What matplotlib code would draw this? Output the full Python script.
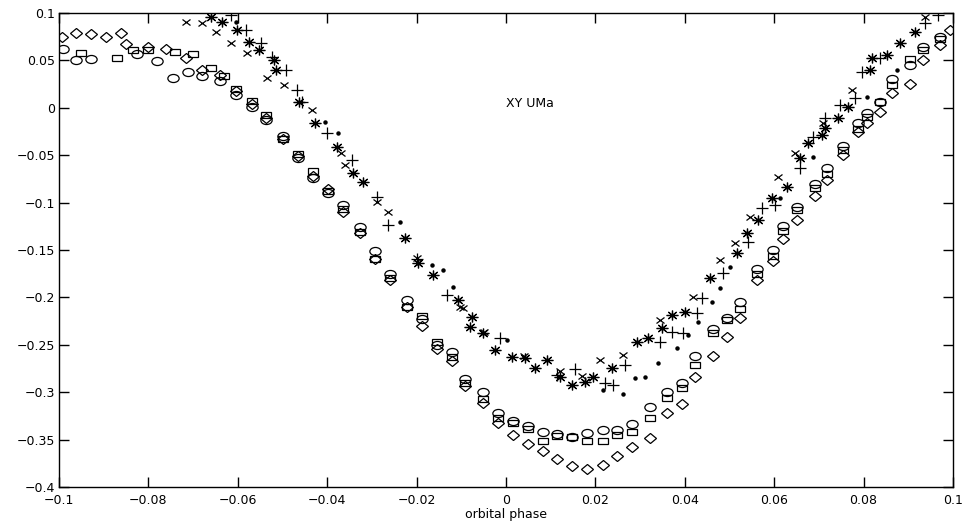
import matplotlib
matplotlib.use("Agg")
import matplotlib.pyplot as plt
from matplotlib.markers import MarkerStyle
from matplotlib.transforms import Affine2D

# ---------------- data (orbital phase, magnitude difference) ----------------
circ_x = [-0.0990, -0.0962, -0.0928, -0.0825, -0.0780, -0.0745, -0.0712, -0.0680, -0.0640,
          -0.0604, -0.0568, -0.0537, -0.0499, -0.0465, -0.0432, -0.0398, -0.0365, -0.0327,
          -0.0293, -0.0260, -0.0221, -0.0188, -0.0154, -0.0121, -0.0092, -0.0051, -0.0018,
          0.0016, 0.0049, 0.0083, 0.0114, 0.0148, 0.0181, 0.0217, 0.0248, 0.0282, 0.0322,
          0.0360, 0.0394, 0.0423, 0.0463, 0.0494, 0.0523, 0.0562, 0.0597, 0.0620, 0.0651,
          0.0691, 0.0718, 0.0754, 0.0787, 0.0808, 0.0837, 0.0864, 0.0904, 0.0933, 0.0971]
circ_y = [0.062, 0.050, 0.052, 0.057, 0.049, 0.031, 0.038, 0.034, 0.028,
          0.014, 0.001, -0.013, -0.030, -0.053, -0.074, -0.090, -0.103, -0.126,
          -0.151, -0.175, -0.203, -0.223, -0.250, -0.258, -0.286, -0.300, -0.322,
          -0.330, -0.336, -0.342, -0.344, -0.347, -0.343, -0.340, -0.340, -0.334, -0.316,
          -0.300, -0.290, -0.262, -0.233, -0.222, -0.205, -0.170, -0.150, -0.125, -0.105,
          -0.080, -0.063, -0.040, -0.016, -0.005, 0.006, 0.030, 0.045, 0.064, 0.075]

sq_x = [-0.0950, -0.0870, -0.0835, -0.0800, -0.0740, -0.0700, -0.0660, -0.0630, -0.0604,
        -0.0568, -0.0537, -0.0499, -0.0465, -0.0432, -0.0398, -0.0365, -0.0327, -0.0293,
        -0.0260, -0.0221, -0.0188, -0.0154, -0.0121, -0.0092, -0.0051, -0.0018, 0.0016,
        0.0049, 0.0083, 0.0114, 0.0148, 0.0181, 0.0217, 0.0248, 0.0282, 0.0322, 0.0360,
        0.0394, 0.0423, 0.0463, 0.0494, 0.0523, 0.0562, 0.0597, 0.0620, 0.0651, 0.0691,
        0.0718, 0.0754, 0.0787, 0.0808, 0.0837, 0.0864, 0.0904, 0.0933, 0.0971]
sq_y = [0.058, 0.053, 0.061, 0.061, 0.059, 0.057, 0.042, 0.034, 0.020,
        0.007, -0.008, -0.033, -0.049, -0.067, -0.088, -0.107, -0.131, -0.159,
        -0.180, -0.210, -0.220, -0.247, -0.263, -0.290, -0.307, -0.327, -0.333,
        -0.339, -0.352, -0.346, -0.347, -0.352, -0.351, -0.345, -0.342, -0.327, -0.306,
        -0.296, -0.271, -0.238, -0.224, -0.212, -0.175, -0.156, -0.130, -0.108, -0.085,
        -0.070, -0.045, -0.022, -0.010, 0.006, 0.024, 0.052, 0.061, 0.073]

dia_x = [-0.0993, -0.0962, -0.0928, -0.0895, -0.0861, -0.0850, -0.0800, -0.0760, -0.0715,
         -0.0680, -0.0640, -0.0604, -0.0568, -0.0537, -0.0499, -0.0465, -0.0432, -0.0398,
         -0.0365, -0.0327, -0.0293, -0.0260, -0.0221, -0.0188, -0.0154, -0.0121, -0.0092,
         -0.0051, -0.0018, 0.0016, 0.0049, 0.0083, 0.0114, 0.0148, 0.0181, 0.0217, 0.0248,
         0.0282, 0.0322, 0.0360, 0.0394, 0.0423, 0.0463, 0.0494, 0.0523, 0.0562, 0.0597,
         0.0620, 0.0651, 0.0691, 0.0718, 0.0754, 0.0787, 0.0808, 0.0837, 0.0864, 0.0904,
         0.0933, 0.0971, 0.0993]
dia_y = [0.075, 0.079, 0.078, 0.075, 0.079, 0.067, 0.064, 0.062, 0.053,
         0.040, 0.035, 0.018, 0.004, -0.011, -0.033, -0.051, -0.072, -0.086,
         -0.110, -0.132, -0.160, -0.182, -0.210, -0.230, -0.254, -0.267, -0.293,
         -0.311, -0.332, -0.345, -0.355, -0.362, -0.370, -0.378, -0.381, -0.377, -0.367,
         -0.358, -0.348, -0.322, -0.312, -0.284, -0.262, -0.242, -0.222, -0.182, -0.162,
         -0.138, -0.118, -0.093, -0.076, -0.050, -0.026, -0.016, -0.004, 0.016, 0.025,
         0.050, 0.066, 0.082]

cross_x = [-0.0716, -0.0680, -0.0649, -0.0615, -0.0579, -0.0535, -0.0497, -0.0434, -0.0370,
           -0.0360, -0.0289, -0.0264, -0.0200, -0.0103, -0.0096, -0.0050, 0.0040, 0.0120,
           0.0170, 0.0210, 0.0262, 0.0345, 0.0418, 0.0479, 0.0512, 0.0546, 0.0609, 0.0647,
           0.0709, 0.0774, 0.0937]
cross_y = [0.0905, 0.0895, 0.080, 0.068, 0.058, 0.031, 0.024, -0.002, -0.048,
           -0.060, -0.099, -0.110, -0.158, -0.210, -0.211, -0.236, -0.262, -0.278,
           -0.283, -0.266, -0.261, -0.224, -0.200, -0.161, -0.143, -0.115, -0.073, -0.048,
           -0.016, 0.019, 0.096]

plus_x = [-0.0615, -0.0582, -0.0548, -0.0523, -0.0492, -0.0468, -0.0456, -0.0400, -0.0345,
          -0.0289, -0.0264, -0.0200, -0.0132, -0.0013, 0.0114, 0.0154, 0.0221, 0.0239,
          0.0266, 0.0345, 0.0371, 0.0396, 0.0427, 0.0438, 0.0485, 0.0541, 0.0573, 0.0602,
          0.0658, 0.0687, 0.0714, 0.0747, 0.0781, 0.0796, 0.0837, 0.0937, 0.0966]
plus_y = [0.098, 0.082, 0.068, 0.0536, 0.040, 0.019, 0.006, -0.027, -0.055,
          -0.094, -0.124, -0.160, -0.197, -0.243, -0.282, -0.275, -0.290, -0.292,
          -0.271, -0.247, -0.237, -0.238, -0.216, -0.201, -0.174, -0.142, -0.106, -0.103,
          -0.0635, -0.031, -0.011, 0.003, 0.010, 0.038, 0.053, 0.0895, 0.098]

star_x = [-0.0660, -0.0635, -0.0602, -0.0575, -0.0553, -0.0519, -0.0515, -0.0463, -0.0427,
          -0.0378, -0.0342, -0.0320, -0.0226, -0.0197, -0.0163, -0.0107, -0.0076, -0.0080,
          -0.0051, -0.0025, 0.0013, 0.0042, 0.0065, 0.0092, 0.0121, 0.0148, 0.0177, 0.0195,
          0.0237, 0.0293, 0.0318, 0.0349, 0.0371, 0.0400, 0.0456, 0.0517, 0.0539, 0.0564,
          0.0595, 0.0629, 0.0658, 0.0676, 0.0707, 0.0714, 0.0743, 0.0765, 0.0814, 0.0819,
          0.0852, 0.0881, 0.0915]
star_y = [0.096, 0.0905, 0.082, 0.069, 0.061, 0.050, 0.040, 0.006, -0.016,
          -0.041, -0.069, -0.078, -0.137, -0.164, -0.176, -0.203, -0.221, -0.231,
          -0.238, -0.256, -0.263, -0.264, -0.274, -0.266, -0.284, -0.292, -0.289, -0.284,
          -0.274, -0.247, -0.243, -0.232, -0.219, -0.215, -0.180, -0.153, -0.132, -0.118,
          -0.095, -0.084, -0.053, -0.037, -0.029, -0.021, -0.011, 0.001, 0.040, 0.053,
          0.056, 0.068, 0.080]

dot_x = [-0.0604, -0.0405, -0.0376, -0.0237, -0.0166, -0.0141, -0.0119, 0.0002, 0.0217,
         0.0262, 0.0289, 0.0311, 0.0340, 0.0383, 0.0407, 0.0430, 0.0461, 0.0479, 0.0501,
         0.0613, 0.0687, 0.0808, 0.0875]
dot_y = [0.0905, -0.015, -0.027, -0.120, -0.166, -0.171, -0.189, -0.245, -0.298,
         -0.302, -0.285, -0.284, -0.269, -0.253, -0.240, -0.226, -0.205, -0.190, -0.168,
         -0.095, -0.052, 0.011, 0.040]

xtick_vals = [-0.1, -0.08, -0.06, -0.04, -0.02, 0, 0.02, 0.04, 0.06, 0.08, 0.1]
xtick_labels = ["\u22120.1", "\u22120.08", "\u22120.06", "\u22120.04", "\u22120.02", "0",
                "0.02", "0.04", "0.06", "0.08", "0.1"]
ytick_vals = [-0.4, -0.35, -0.3, -0.25, -0.2, -0.15, -0.1, -0.05, 0, 0.05, 0.1]
ytick_labels = ["\u22120.4", "\u22120.35", "\u22120.3", "\u22120.25", "\u22120.2", "\u22120.15",
                "\u22120.1", "\u22120.05", "0", "0.05", "0.1"]
star_name = "XY UMa"
x_title = "orbital phase"

# ---------------- figure ----------------
plt.rcParams['font.family'] = ['DejaVu Sans']
fig = plt.figure(figsize=(9.71, 5.24), dpi=100)
ax = fig.add_axes([59/971, 1 - 487/524, (953 - 59)/971, (487 - 13)/524])

def stretched(m, sx):
    return MarkerStyle(m, transform=Affine2D().scale(sx, 1.0))

common = dict(linestyle='none', color='black', mfc='none', mec='black', mew=0.9)
ax.plot(circ_x, circ_y, marker=stretched('o', 1.4), ms=5.8, **common)
ax.plot(sq_x, sq_y, marker=stretched('s', 1.4), ms=5.0, **common)
ax.plot(dia_x, dia_y, marker=stretched('D', 1.33), ms=4.6, **common)
ax.plot(cross_x, cross_y, marker=stretched('x', 1.3), ms=4.5, **common)
ax.plot(plus_x, plus_y, marker=stretched('+', 1.1), ms=8.5, **common)
ax.plot(star_x, star_y, marker=stretched((8, 2, 0), 1.2), ms=7.0, **common)
ax.plot(dot_x, dot_y, marker='o', ms=2.2, linestyle='none', color='black', mec='black', mfc='black')

ax.set_xlim(-0.1, 0.1)
ax.set_ylim(-0.4, 0.1)
ax.set_xticks(xtick_vals)
ax.set_xticklabels(xtick_labels)
ax.set_yticks(ytick_vals)
ax.set_yticklabels(ytick_labels)
ax.tick_params(direction='in', length=7, width=1.0, top=True, right=True, labelsize=9)
ax.tick_params(axis='x', pad=5)
ax.tick_params(axis='y', pad=3)
for s in ax.spines.values():
    s.set_linewidth(1.0)

ax.text(0.0, 0.005, star_name, ha='left', va='center', fontsize=9)
ax.set_xlabel(x_title, fontsize=9, labelpad=1)

fig.savefig("out.png", dpi=100)
